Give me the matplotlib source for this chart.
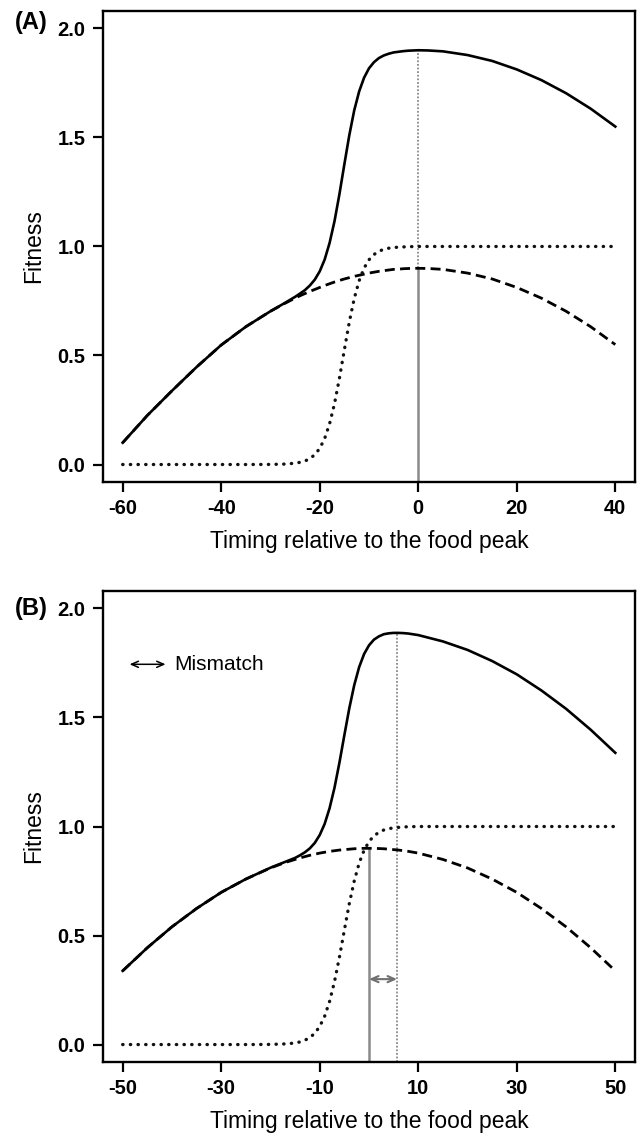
import numpy as np
import matplotlib
matplotlib.use("Agg")
import matplotlib.pyplot as plt

plt.rcParams['font.family'] = ['Liberation Sans', 'DejaVu Sans']

# panel A values
x_a = [-60, -55, -50, -45, -40, -35, -30, -27, -25, -24, -23, -22, -21, -20, -19, -18,
       -17, -16, -15, -14, -13, -12, -11, -10, -9, -8, -7, -6, -5, -4, -3, -2, 0, 2, 5,
       10, 15, 20, 25, 30, 35, 40]
dashed_a = [0.100, 0.225, 0.338, 0.447, 0.548, 0.632, 0.703, 0.740,
            0.763, 0.774, 0.784, 0.794, 0.803, 0.812, 0.821, 0.829, 0.837, 0.844, 0.851, 0.857,
            0.863, 0.868, 0.873, 0.878, 0.882, 0.886, 0.889, 0.892, 0.895, 0.896, 0.898, 0.899,
            0.900, 0.899, 0.895,
            0.878, 0.851, 0.812, 0.763, 0.703, 0.632, 0.550]
dotted_a = [0, 0, 0, 0, 0, 0, 0.0004, 0.002,
            0.006, 0.010, 0.016, 0.027, 0.045, 0.074, 0.119, 0.187, 0.279, 0.396, 0.526, 0.653,
            0.761, 0.843, 0.901, 0.939, 0.963, 0.978, 0.987, 0.992, 0.995, 0.997, 0.998, 0.999,
            1.0, 1.0, 1.0,
            1.0, 1.0, 1.0, 1.0, 1.0, 1.0, 1.0]
solid_a = [0.100, 0.225, 0.338, 0.447, 0.548, 0.632, 0.703, 0.742,
           0.769, 0.784, 0.800, 0.821, 0.848, 0.886, 0.940, 1.016, 1.116, 1.240, 1.377, 1.510,
           1.624, 1.711, 1.774, 1.817, 1.845, 1.864, 1.876, 1.884, 1.890, 1.893, 1.896, 1.898,
           1.900, 1.899, 1.895,
           1.878, 1.851, 1.812, 1.763, 1.703, 1.632, 1.550]
ticks_a = [-60, -40, -20, 0, 20, 40]
food_a = 0
peak_a = 0

# panel B values
x_b = [-50, -45, -40, -35, -30, -25, -20, -17, -15, -14, -13, -12, -11, -10, -9, -8, -7,
       -6, -5, -4, -3, -2, -1, 0, 1, 2, 3, 4, 5, 6, 7, 8, 10, 15, 20, 25, 30, 35, 40, 45, 50]
dashed_b = [0.338, 0.444, 0.540, 0.624, 0.698, 0.759, 0.810, 0.835,
            0.849, 0.856, 0.862, 0.868, 0.873, 0.878, 0.882, 0.886, 0.889, 0.892, 0.894, 0.896,
            0.898, 0.899, 0.900, 0.900, 0.900, 0.899, 0.898, 0.896, 0.894, 0.892, 0.889, 0.886,
            0.878, 0.849, 0.810, 0.759, 0.698, 0.624, 0.540, 0.444, 0.338]
dotted_b = [0, 0, 0, 0, 0, 0, 0.0006, 0.003,
            0.007, 0.012, 0.020, 0.032, 0.052, 0.083, 0.130, 0.198, 0.289, 0.401, 0.525, 0.646,
            0.750, 0.832, 0.891, 0.931, 0.957, 0.973, 0.984, 0.990, 0.994, 0.996, 0.998, 0.999,
            1.0, 1.0, 1.0, 1.0, 1.0, 1.0, 1.0, 1.0, 1.0]
solid_b = [0.338, 0.444, 0.540, 0.624, 0.698, 0.759, 0.811, 0.838,
           0.856, 0.868, 0.882, 0.900, 0.925, 0.961, 1.012, 1.084, 1.178, 1.293, 1.419, 1.542,
           1.648, 1.731, 1.791, 1.831, 1.857, 1.872, 1.882, 1.886, 1.888, 1.888, 1.887, 1.885,
           1.878, 1.849, 1.810, 1.759, 1.698, 1.624, 1.540, 1.444, 1.338]
ticks_b = [-50, -30, -10, 10, 30, 50]
food_b = 0
peak_b = 5.7
mismatch_y = 0.3

yticks = [0.0, 0.5, 1.0, 1.5, 2.0]
ylo, yhi = -0.08, 2.08

fig = plt.figure(figsize=(6.4, 11.34), dpi=100)
axA = fig.add_axes([0.1609, 0.5750, 0.8313, 0.4153])
axB = fig.add_axes([0.1609, 0.0635, 0.8313, 0.4153])

dash = (0, (3.6, 1.9))
dot = (0, (0.1, 2.2))
grey = '#8a8a8a'


def draw(ax, x, dashed, dotted, solid, xticks, food, peak, ytop):
    ax.vlines(food, ylo, dashed[x.index(food)], color=grey, lw=1.8, zorder=1)
    if peak == food:
        ax.vlines(peak, dashed[x.index(food)], ytop, color=grey, lw=1.3,
                  linestyle=(0, (1, 1)), zorder=1)
    else:
        ax.vlines(peak, ylo, ytop, color=grey, lw=1.3, linestyle=(0, (1, 1)), zorder=1)
    ax.plot(x, dashed, color='black', lw=2.0, linestyle=dash, zorder=2)
    ax.plot(x, dotted, color='#111111', lw=2.4, linestyle=dot,
            dash_capstyle='round', zorder=2)
    ax.plot(x, solid, color='black', lw=1.9, zorder=3)
    ax.set_xlim(xticks[0] - 0.04 * (xticks[-1] - xticks[0]),
                xticks[-1] + 0.04 * (xticks[-1] - xticks[0]))
    ax.set_ylim(ylo, yhi)
    ax.set_xticks(xticks)
    ax.set_xticklabels([str(t) for t in xticks])
    ax.set_yticks(yticks)
    ax.set_yticklabels(['%.1f' % t for t in yticks])
    ax.tick_params(direction='out', length=7.5, width=1.6, labelsize=14.5, pad=5)
    for lab in ax.get_xticklabels() + ax.get_yticklabels():
        lab.set_fontweight('bold')
    for s in ax.spines.values():
        s.set_linewidth(1.7)
    ax.set_xlabel('Timing relative to the food peak', fontsize=16.5, labelpad=8.5)
    ax.set_ylabel('Fitness', fontsize=16.5, labelpad=9)


draw(axA, x_a, dashed_a, dotted_a, solid_a, ticks_a, food_a, peak_a, 1.9)
draw(axB, x_b, dashed_b, dotted_b, solid_b, ticks_b, food_b, peak_b, 1.888)

axB.annotate('', xy=(food_b, mismatch_y), xytext=(peak_b, mismatch_y),
             arrowprops=dict(arrowstyle='<->,head_length=0.5,head_width=0.22',
                             color='#707070', lw=1.5, shrinkA=0, shrinkB=0))
axB.annotate('', xy=(-48.6, 1.744), xytext=(-41.3, 1.744),
             arrowprops=dict(arrowstyle='<->,head_length=0.5,head_width=0.22',
                             color='black', lw=1.1, shrinkA=0, shrinkB=0))
axB.text(-39.6, 1.744, 'Mismatch', fontsize=15, va='center', ha='left')

fig.text(15 / 640, 1 - 23 / 1134, '(A)', fontsize=17, fontweight='bold', va='center', ha='left')
fig.text(15 / 640, 1 - 608 / 1134, '(B)', fontsize=17, fontweight='bold', va='center', ha='left')

fig.savefig('out.png', dpi=100)
